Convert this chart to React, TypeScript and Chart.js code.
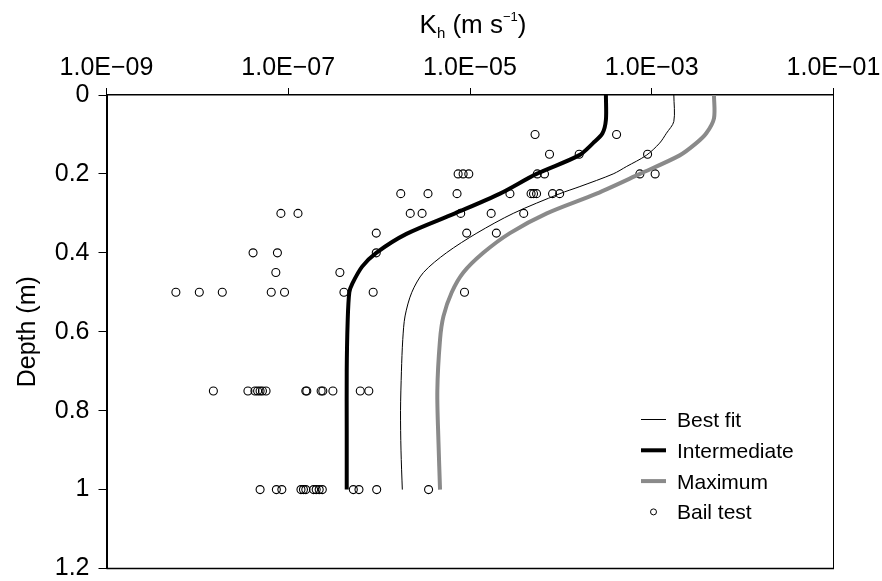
import React, { useEffect, useRef } from "react";
import { Chart, registerables } from "chart.js";

Chart.register(...registerables);

const FONT = '"Liberation Sans", Arial, Helvetica, sans-serif';

// x-axis (log) tick values and labels
const xTickValues = [1e-9, 1e-7, 1e-5, 1e-3, 1e-1];
const xTickLabels = ["1.0E\u221209", "1.0E\u221207", "1.0E\u221205", "1.0E\u221203", "1.0E\u221201"];

// Curves: depth (m) and Kh (m/s)
const bestFitDepth = [0, 0.067, 0.097, 0.122, 0.153, 0.181, 0.2, 0.232, 0.25, 0.3, 0.35, 0.4, 0.45, 0.5, 0.56, 0.62, 0.7, 0.8, 0.9, 1.0];
const bestFitK = [1.75e-3, 1.75e-3, 1.45e-3, 1.22e-3, 8.7e-4, 5.3e-4, 3.76e-4, 1.62e-4, 9.75e-5, 2.99e-5, 1.19e-5, 5.5e-6, 3.07e-6, 2.29e-6, 1.93e-6, 1.82e-6, 1.76e-6, 1.72e-6, 1.74e-6, 1.8e-6];

const intermediateDepth = [0, 0.063, 0.097, 0.122, 0.153, 0.2, 0.25, 0.3, 0.352, 0.4, 0.435, 0.477, 0.5, 0.578, 0.7, 0.85, 1.0];
const intermediateK = [3.13e-4, 3.13e-4, 2.87e-4, 2.26e-4, 1.58e-4, 5.4e-5, 2.14e-5, 6.84e-6, 2.0e-6, 9.3e-7, 6.5e-7, 5.1e-7, 4.7e-7, 4.5e-7, 4.4e-7, 4.4e-7, 4.4e-7];

const maximumDepth = [0, 0.059, 0.097, 0.122, 0.153, 0.2, 0.25, 0.3, 0.35, 0.4, 0.45, 0.5, 0.561, 0.62, 0.75, 0.88, 1.0];
const maximumK = [4.84e-3, 4.84e-3, 3.98e-3, 3.09e-3, 2.03e-3, 7.4e-4, 2.47e-4, 7.0e-5, 2.75e-5, 1.4e-5, 8.45e-6, 6.3e-6, 5.1e-6, 4.68e-6, 4.37e-6, 4.5e-6, 4.68e-6];

// Bail test points
const bailDepth = [
  0.1, 0.1,
  0.15, 0.15, 0.15,
  0.2, 0.2, 0.2, 0.2, 0.2, 0.2, 0.2,
  0.25, 0.25, 0.25, 0.25, 0.25, 0.25, 0.25, 0.25, 0.25,
  0.3, 0.3, 0.3, 0.3, 0.3, 0.3, 0.3,
  0.35, 0.35, 0.35,
  0.4, 0.4, 0.4,
  0.45, 0.45,
  0.5, 0.5, 0.5, 0.5, 0.5, 0.5, 0.5, 0.5,
  0.75, 0.75, 0.75, 0.75, 0.75, 0.75, 0.75, 0.75, 0.75, 0.75, 0.75, 0.75, 0.75, 0.75,
  1.0, 1.0, 1.0, 1.0, 1.0, 1.0, 1.0, 1.0, 1.0, 1.0, 1.0, 1.0, 1.0, 1.0,
];
const bailK = [
  5.2e-5, 4.1e-4,
  7.5e-5, 1.59e-4, 9.0e-4,
  7.4e-6, 8.4e-6, 9.7e-6, 5.5e-5, 6.6e-5, 7.4e-4, 1.09e-3,
  1.73e-6, 3.45e-6, 7.2e-6, 2.75e-5, 4.7e-5, 5.0e-5, 5.4e-5, 8.1e-5, 9.7e-5,
  8.3e-8, 1.28e-7, 2.2e-6, 2.97e-6, 7.9e-6, 1.71e-5, 3.9e-5,
  9.3e-7, 9.2e-6, 1.95e-5,
  4.1e-8, 7.6e-8, 9.3e-7,
  7.3e-8, 3.7e-7,
  5.8e-9, 1.05e-8, 1.88e-8, 6.5e-8, 9.1e-8, 4.1e-7, 8.6e-7, 8.7e-6,
  1.5e-8, 3.6e-8, 4.3e-8, 4.6e-8, 4.9e-8, 5.2e-8, 5.7e-8, 1.56e-7, 1.6e-7, 2.3e-7, 2.4e-7, 3.1e-7, 6.2e-7, 7.7e-7,
  4.9e-8, 7.4e-8, 8.5e-8, 1.38e-7, 1.47e-7, 1.56e-7, 1.9e-7, 2.03e-7, 2.19e-7, 2.37e-7, 5.2e-7, 6.0e-7, 9.4e-7, 3.5e-6,
];

const seriesLabels = ["Best fit", "Intermediate", "Maximum", "Bail test"];

const toPoints = (ks: number[], ds: number[]) => ks.map((k, i) => ({ x: k, y: ds[i] }));

const framePlugin = {
  id: "frameAndTitle",
  afterDraw(chart: any) {
    const { ctx, chartArea: a } = chart;
    ctx.save();
    // bottom and right borders
    ctx.strokeStyle = "#000";
    ctx.lineWidth = 1.5;
    ctx.beginPath();
    ctx.moveTo(a.left, a.bottom);
    ctx.lineTo(a.right + 0.5, a.bottom);
    ctx.stroke();
    ctx.lineWidth = 1;
    ctx.beginPath();
    ctx.moveTo(a.right, a.top);
    ctx.lineTo(a.right, a.bottom);
    ctx.stroke();

    // top title: K_h (m s^-1)
    ctx.fillStyle = "#000";
    ctx.textBaseline = "alphabetic";
    ctx.textAlign = "left";
    const parts = [
      { t: "K", size: 26, dy: 0 },
      { t: "h", size: 15, dy: 5 },
      { t: " (m s", size: 26, dy: 0 },
      { t: "\u22121", size: 13, dy: -12 },
      { t: ")", size: 26, dy: 0 },
    ];
    let total = 0;
    const widths = parts.map((p) => {
      ctx.font = `${p.size}px ${FONT}`;
      const w = ctx.measureText(p.t).width;
      total += w;
      return w;
    });
    const cx = (a.left + a.right) / 2 + 3;
    let x = cx - total / 2;
    const base = 32.5;
    parts.forEach((p, i) => {
      ctx.font = `${p.size}px ${FONT}`;
      ctx.fillText(p.t, x, base + p.dy);
      x += widths[i];
    });

    // legend
    const ds = chart.data.datasets;
    const lx0 = 641, lx1 = 666, tx = 677;
    ctx.font = `21px ${FONT}`;
    ds.forEach((d: any, i: number) => {
      const yc = 419.5 + i * 30.8;
      if (d.showLine === false) {
        ctx.beginPath();
        ctx.lineWidth = 1;
        ctx.strokeStyle = d.pointBorderColor;
        ctx.arc((lx0 + lx1) / 2, yc, 3, 0, Math.PI * 2);
        ctx.stroke();
      } else {
        ctx.beginPath();
        ctx.lineWidth = d.borderWidth;
        ctx.strokeStyle = d.borderColor;
        ctx.moveTo(lx0, yc);
        ctx.lineTo(lx1, yc);
        ctx.stroke();
      }
      ctx.fillStyle = "#000";
      ctx.fillText(d.label, tx, yc + 7.5);
    });
    ctx.restore();
  },
};

export default function App() {
  const ref = useRef<HTMLCanvasElement | null>(null);

  useEffect(() => {
    if (!ref.current) return;
    const chart = new Chart(ref.current, {
      type: "scatter",
      data: {
        datasets: [
          {
            label: seriesLabels[0],
            data: toPoints(bestFitK, bestFitDepth),
            showLine: true,
            borderColor: "#000000",
            borderWidth: 1,
            pointRadius: 0,
            tension: 0.3,
            fill: false,
          },
          {
            label: seriesLabels[1],
            data: toPoints(intermediateK, intermediateDepth),
            showLine: true,
            borderColor: "#000000",
            borderWidth: 4,
            pointRadius: 0,
            tension: 0.3,
            fill: false,
          },
          {
            label: seriesLabels[2],
            data: toPoints(maximumK, maximumDepth),
            showLine: true,
            borderColor: "#8a8a8a",
            borderWidth: 4,
            pointRadius: 0,
            tension: 0.3,
            fill: false,
          },
          {
            label: seriesLabels[3],
            data: toPoints(bailK, bailDepth),
            showLine: false,
            pointRadius: 4,
            pointBorderWidth: 1.1,
            pointBorderColor: "#000000",
            pointBackgroundColor: "rgba(0,0,0,0)",
            pointStyle: "circle",
          } as any,
        ],
      },
      options: {
        animation: false,
        responsive: false,
        devicePixelRatio: 1,
        layout: { autoPadding: false, padding: { left: 0, top: 0, right: 48.5, bottom: 12.5 } },
        plugins: {
          legend: { display: false },
          tooltip: { enabled: false },
          title: { display: false },
        },
        scales: {
          x: {
            type: "logarithmic",
            position: "top",
            min: 1e-9,
            max: 1e-1,
            afterBuildTicks: (scale: any) => {
              scale.ticks = xTickValues.map((v) => ({ value: v, major: true }));
            },
            afterFit: (scale: any) => {
              scale.height = 95;
              scale.paddingLeft = 0;
              scale.paddingRight = 0;
            },
            ticks: {
              autoSkip: false,
              maxRotation: 0,
              minRotation: 0,
              color: "#000",
              padding: 5,
              font: { family: FONT, size: 25 },
              callback: (_v: any, i: number) => xTickLabels[i],
            },
            grid: {
              display: true,
              drawOnChartArea: false,
              drawTicks: true,
              tickLength: 7,
              color: "#000",
              tickWidth: 1,
            },
            border: { display: true, color: "#000", width: 1.5 },
          },
          y: {
            type: "linear",
            reverse: true,
            min: 0,
            max: 1.2,
            afterFit: (scale: any) => {
              scale.width = 106.5;
              scale.paddingTop = 0;
              scale.paddingBottom = 0;
            },
            ticks: {
              stepSize: 0.2,
              color: "#000",
              padding: 9,
              font: { family: FONT, size: 25, lineHeight: 1 },
              callback: (v: any) => String(Math.round(Number(v) * 10) / 10),
            },
            grid: {
              display: true,
              drawOnChartArea: false,
              drawTicks: true,
              tickLength: 8,
              color: "#000",
              tickWidth: 1,
            },
            border: { display: true, color: "#000", width: 2 },
            title: {
              display: true,
              text: "Depth (m)",
              color: "#000",
              font: { family: FONT, size: 25 },
              padding: { top: 13, bottom: 0 },
            },
          },
        },
      },
      plugins: [framePlugin],
    });
    return () => chart.destroy();
  }, []);

  return (
    <div style={{ position: "fixed", left: 0, top: 0, width: 882, height: 581, background: "#fff" }}>
      <canvas ref={ref} width={882} height={581} style={{ display: "block", width: 882, height: 581 }} />
    </div>
  );
}
